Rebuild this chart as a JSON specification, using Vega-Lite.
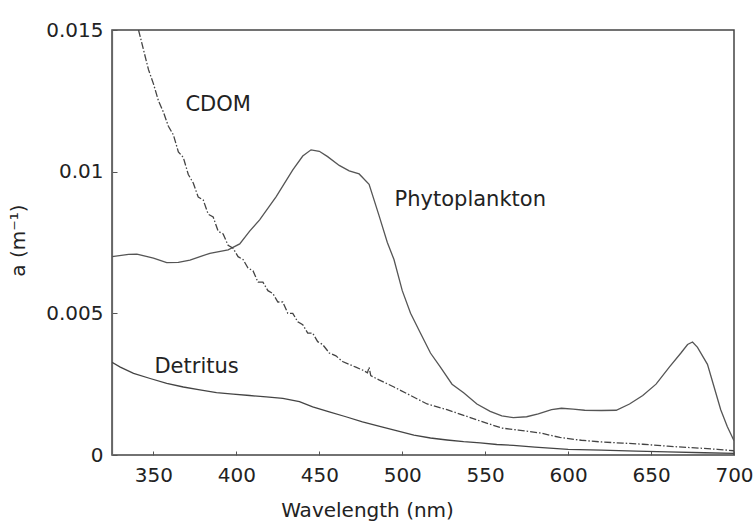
{
  "$schema": "https://vega.github.io/schema/vega-lite/v6.json",
  "width": 622,
  "height": 425,
  "autosize": {"type": "none"},
  "padding": {"left": 112, "top": 30, "right": 21, "bottom": 68},
  "background": "white",
  "config": {
    "view": {"stroke": "#444", "strokeWidth": 1.5},
    "font": "DejaVu Sans",
    "axis": {"grid": false, "labelFont": "DejaVu Sans", "titleFont": "DejaVu Sans", "labelColor": "#222", "titleColor": "#222", "labelFontSize": 20, "titleFontSize": 20, "titleFontWeight": "normal", "tickColor": "#555", "domainColor": "#666"}
  },
  "datasets": {
    "curves": [
      {"series": "Phytoplankton", "wl": 325, "a": 0.0070},
      {"series": "Phytoplankton", "wl": 335, "a": 0.00708},
      {"series": "Phytoplankton", "wl": 340, "a": 0.00709},
      {"series": "Phytoplankton", "wl": 350, "a": 0.00695},
      {"series": "Phytoplankton", "wl": 358, "a": 0.00679},
      {"series": "Phytoplankton", "wl": 365, "a": 0.0068},
      {"series": "Phytoplankton", "wl": 372, "a": 0.00688},
      {"series": "Phytoplankton", "wl": 384, "a": 0.00712},
      {"series": "Phytoplankton", "wl": 395, "a": 0.00724},
      {"series": "Phytoplankton", "wl": 402, "a": 0.00745},
      {"series": "Phytoplankton", "wl": 408, "a": 0.0079},
      {"series": "Phytoplankton", "wl": 414, "a": 0.0083},
      {"series": "Phytoplankton", "wl": 424, "a": 0.00912},
      {"series": "Phytoplankton", "wl": 434, "a": 0.01006},
      {"series": "Phytoplankton", "wl": 440, "a": 0.01055},
      {"series": "Phytoplankton", "wl": 445, "a": 0.01077},
      {"series": "Phytoplankton", "wl": 450, "a": 0.01072},
      {"series": "Phytoplankton", "wl": 455, "a": 0.01053},
      {"series": "Phytoplankton", "wl": 462, "a": 0.01022},
      {"series": "Phytoplankton", "wl": 468, "a": 0.01003},
      {"series": "Phytoplankton", "wl": 474, "a": 0.00992},
      {"series": "Phytoplankton", "wl": 480, "a": 0.00955},
      {"series": "Phytoplankton", "wl": 486, "a": 0.00845},
      {"series": "Phytoplankton", "wl": 491, "a": 0.0075},
      {"series": "Phytoplankton", "wl": 495, "a": 0.0069},
      {"series": "Phytoplankton", "wl": 500, "a": 0.0058},
      {"series": "Phytoplankton", "wl": 505, "a": 0.0050},
      {"series": "Phytoplankton", "wl": 511, "a": 0.0043},
      {"series": "Phytoplankton", "wl": 517, "a": 0.0036},
      {"series": "Phytoplankton", "wl": 523, "a": 0.0031},
      {"series": "Phytoplankton", "wl": 530, "a": 0.0025},
      {"series": "Phytoplankton", "wl": 537, "a": 0.0022},
      {"series": "Phytoplankton", "wl": 545, "a": 0.0018},
      {"series": "Phytoplankton", "wl": 553, "a": 0.00154},
      {"series": "Phytoplankton", "wl": 560, "a": 0.00138},
      {"series": "Phytoplankton", "wl": 567, "a": 0.00132},
      {"series": "Phytoplankton", "wl": 575, "a": 0.00135},
      {"series": "Phytoplankton", "wl": 582, "a": 0.00145},
      {"series": "Phytoplankton", "wl": 590, "a": 0.0016},
      {"series": "Phytoplankton", "wl": 596, "a": 0.00165},
      {"series": "Phytoplankton", "wl": 603, "a": 0.00162},
      {"series": "Phytoplankton", "wl": 610, "a": 0.00158},
      {"series": "Phytoplankton", "wl": 620, "a": 0.00157},
      {"series": "Phytoplankton", "wl": 629, "a": 0.00158},
      {"series": "Phytoplankton", "wl": 637, "a": 0.0018},
      {"series": "Phytoplankton", "wl": 645, "a": 0.0021},
      {"series": "Phytoplankton", "wl": 653, "a": 0.0025},
      {"series": "Phytoplankton", "wl": 661, "a": 0.0031},
      {"series": "Phytoplankton", "wl": 668, "a": 0.0036},
      {"series": "Phytoplankton", "wl": 672, "a": 0.0039},
      {"series": "Phytoplankton", "wl": 675, "a": 0.00399},
      {"series": "Phytoplankton", "wl": 678, "a": 0.0038},
      {"series": "Phytoplankton", "wl": 684, "a": 0.0032},
      {"series": "Phytoplankton", "wl": 688, "a": 0.0024},
      {"series": "Phytoplankton", "wl": 692, "a": 0.0016},
      {"series": "Phytoplankton", "wl": 696, "a": 0.0010},
      {"series": "Phytoplankton", "wl": 700, "a": 0.0005},
      {"series": "CDOM", "wl": 341, "a": 0.0150},
      {"series": "CDOM", "wl": 344, "a": 0.0143},
      {"series": "CDOM", "wl": 347, "a": 0.0136},
      {"series": "CDOM", "wl": 350, "a": 0.0131},
      {"series": "CDOM", "wl": 353, "a": 0.0125},
      {"series": "CDOM", "wl": 356, "a": 0.0121},
      {"series": "CDOM", "wl": 359, "a": 0.0116},
      {"series": "CDOM", "wl": 362, "a": 0.0113},
      {"series": "CDOM", "wl": 365, "a": 0.0107},
      {"series": "CDOM", "wl": 368, "a": 0.0105},
      {"series": "CDOM", "wl": 371, "a": 0.0099},
      {"series": "CDOM", "wl": 374, "a": 0.0096},
      {"series": "CDOM", "wl": 377, "a": 0.0091},
      {"series": "CDOM", "wl": 380, "a": 0.0090},
      {"series": "CDOM", "wl": 383, "a": 0.0085},
      {"series": "CDOM", "wl": 386, "a": 0.0084},
      {"series": "CDOM", "wl": 389, "a": 0.0079},
      {"series": "CDOM", "wl": 392, "a": 0.0078},
      {"series": "CDOM", "wl": 395, "a": 0.0074},
      {"series": "CDOM", "wl": 398, "a": 0.0073},
      {"series": "CDOM", "wl": 401, "a": 0.0070},
      {"series": "CDOM", "wl": 404, "a": 0.0069},
      {"series": "CDOM", "wl": 407, "a": 0.0066},
      {"series": "CDOM", "wl": 410, "a": 0.0065},
      {"series": "CDOM", "wl": 413, "a": 0.0061},
      {"series": "CDOM", "wl": 416, "a": 0.0061},
      {"series": "CDOM", "wl": 419, "a": 0.0058},
      {"series": "CDOM", "wl": 422, "a": 0.0057},
      {"series": "CDOM", "wl": 425, "a": 0.0054},
      {"series": "CDOM", "wl": 428, "a": 0.0054},
      {"series": "CDOM", "wl": 431, "a": 0.0050},
      {"series": "CDOM", "wl": 434, "a": 0.0050},
      {"series": "CDOM", "wl": 437, "a": 0.0047},
      {"series": "CDOM", "wl": 440, "a": 0.0046},
      {"series": "CDOM", "wl": 443, "a": 0.0043},
      {"series": "CDOM", "wl": 446, "a": 0.0043},
      {"series": "CDOM", "wl": 449, "a": 0.0040},
      {"series": "CDOM", "wl": 452, "a": 0.0039},
      {"series": "CDOM", "wl": 456, "a": 0.0036},
      {"series": "CDOM", "wl": 460, "a": 0.0035},
      {"series": "CDOM", "wl": 464, "a": 0.0033},
      {"series": "CDOM", "wl": 468, "a": 0.0032},
      {"series": "CDOM", "wl": 472, "a": 0.0031},
      {"series": "CDOM", "wl": 476, "a": 0.0030},
      {"series": "CDOM", "wl": 479, "a": 0.0029},
      {"series": "CDOM", "wl": 480, "a": 0.0031},
      {"series": "CDOM", "wl": 481, "a": 0.0028},
      {"series": "CDOM", "wl": 486, "a": 0.00265},
      {"series": "CDOM", "wl": 495, "a": 0.0024},
      {"series": "CDOM", "wl": 505, "a": 0.0021},
      {"series": "CDOM", "wl": 515, "a": 0.0018},
      {"series": "CDOM", "wl": 527, "a": 0.0016},
      {"series": "CDOM", "wl": 537, "a": 0.0014},
      {"series": "CDOM", "wl": 547, "a": 0.0012},
      {"series": "CDOM", "wl": 560, "a": 0.00095},
      {"series": "CDOM", "wl": 570, "a": 0.00088},
      {"series": "CDOM", "wl": 583, "a": 0.00078},
      {"series": "CDOM", "wl": 595, "a": 0.00062},
      {"series": "CDOM", "wl": 608, "a": 0.00052},
      {"series": "CDOM", "wl": 620, "a": 0.00046},
      {"series": "CDOM", "wl": 633, "a": 0.00042},
      {"series": "CDOM", "wl": 645, "a": 0.00038},
      {"series": "CDOM", "wl": 660, "a": 0.00031},
      {"series": "CDOM", "wl": 680, "a": 0.00024},
      {"series": "CDOM", "wl": 690, "a": 0.0002},
      {"series": "CDOM", "wl": 700, "a": 0.00015},
      {"series": "Detritus", "wl": 325, "a": 0.00327},
      {"series": "Detritus", "wl": 330, "a": 0.0031},
      {"series": "Detritus", "wl": 338, "a": 0.00288},
      {"series": "Detritus", "wl": 348, "a": 0.0027},
      {"series": "Detritus", "wl": 358, "a": 0.00253},
      {"series": "Detritus", "wl": 368, "a": 0.0024},
      {"series": "Detritus", "wl": 378, "a": 0.0023},
      {"series": "Detritus", "wl": 388, "a": 0.0022},
      {"series": "Detritus", "wl": 398, "a": 0.00215},
      {"series": "Detritus", "wl": 408, "a": 0.0021},
      {"series": "Detritus", "wl": 418, "a": 0.00205},
      {"series": "Detritus", "wl": 428, "a": 0.002},
      {"series": "Detritus", "wl": 438, "a": 0.00188},
      {"series": "Detritus", "wl": 446, "a": 0.0017},
      {"series": "Detritus", "wl": 456, "a": 0.00152},
      {"series": "Detritus", "wl": 466, "a": 0.00135},
      {"series": "Detritus", "wl": 476, "a": 0.00117},
      {"series": "Detritus", "wl": 487, "a": 0.001},
      {"series": "Detritus", "wl": 497, "a": 0.00085},
      {"series": "Detritus", "wl": 507, "a": 0.0007},
      {"series": "Detritus", "wl": 517, "a": 0.0006},
      {"series": "Detritus", "wl": 527, "a": 0.00053},
      {"series": "Detritus", "wl": 537, "a": 0.00047},
      {"series": "Detritus", "wl": 547, "a": 0.00043},
      {"series": "Detritus", "wl": 557, "a": 0.00037},
      {"series": "Detritus", "wl": 567, "a": 0.00034},
      {"series": "Detritus", "wl": 580, "a": 0.00028},
      {"series": "Detritus", "wl": 600, "a": 0.0002},
      {"series": "Detritus", "wl": 620, "a": 0.00017},
      {"series": "Detritus", "wl": 641, "a": 0.00014},
      {"series": "Detritus", "wl": 660, "a": 0.00011},
      {"series": "Detritus", "wl": 682, "a": 0.00008},
      {"series": "Detritus", "wl": 700, "a": 0.00006}
    ],
    "labels": [
      {"label": "CDOM", "wl": 389, "a": 0.01236},
      {"label": "Phytoplankton", "wl": 541, "a": 0.0090},
      {"label": "Detritus", "wl": 376, "a": 0.0031}
    ]
  },
  "layer": [
    {
      "data": {"name": "curves"},
      "transform": [{"filter": "datum.series === 'Phytoplankton'"}],
      "mark": {"type": "line", "color": "#555", "strokeWidth": 1.3, "clip": true},
      "encoding": {
        "x": {"field": "wl", "type": "quantitative", "scale": {"domain": [325, 700], "nice": false, "zero": false},
          "axis": {"title": "Wavelength (nm)", "values": [350, 400, 450, 500, 550, 600, 650, 700], "labelFlush": false, "domain": false, "tickSize": -4, "labelPadding": 14, "titleX": 255, "titleY": 55, "titleBaseline": "middle", "titleAnchor": null, "titleAlign": "center"}},
        "y": {"field": "a", "type": "quantitative", "scale": {"domain": [0, 0.015], "nice": false},
          "axis": {"title": "a (m⁻¹)", "values": [0, 0.005, 0.01, 0.015], "labelFlush": false, "labelExpr": "datum.value === 0 ? '0' : format(datum.value, '.3~f')", "tickSize": -5, "labelPadding": 14, "domainWidth": 1.2, "titleX": -94, "titleY": 210, "titleAngle": 270, "titleBaseline": "middle", "titleAlign": "center", "titleAnchor": null}}
      }
    },
    {
      "data": {"name": "curves"},
      "transform": [{"filter": "datum.series === 'CDOM'"}],
      "mark": {"type": "line", "color": "#444", "strokeWidth": 1.3, "strokeDash": [7, 2, 1.5, 2], "clip": true},
      "encoding": {
        "x": {"field": "wl", "type": "quantitative"},
        "y": {"field": "a", "type": "quantitative"}
      }
    },
    {
      "data": {"name": "curves"},
      "transform": [{"filter": "datum.series === 'Detritus'"}],
      "mark": {"type": "line", "color": "#444", "strokeWidth": 1.3, "clip": true},
      "encoding": {
        "x": {"field": "wl", "type": "quantitative"},
        "y": {"field": "a", "type": "quantitative"}
      }
    },
    {
      "data": {"name": "labels"},
      "mark": {"type": "text", "fontSize": 21, "color": "#222", "font": "DejaVu Sans", "baseline": "middle", "align": "center"},
      "encoding": {
        "x": {"field": "wl", "type": "quantitative"},
        "y": {"field": "a", "type": "quantitative"},
        "text": {"field": "label"}
      }
    }
  ]
}
